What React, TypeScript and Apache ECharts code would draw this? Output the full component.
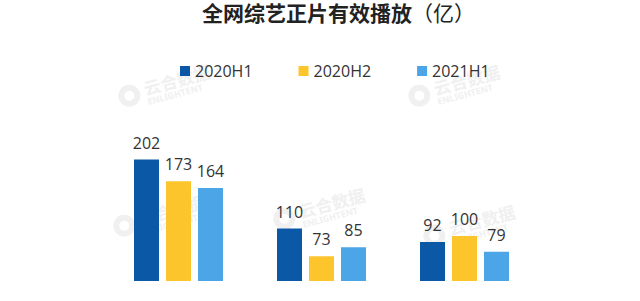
import React, { useEffect, useRef } from "react";
import * as echarts from "echarts";

const categories = ["A", "B", "C"];
const seriesNames = ["2020H1", "2020H2", "2021H1"];
const values2020H1 = [202, 110, 92];
const values2020H2 = [173, 73, 100];
const values2021H1 = [164, 85, 79];
const colors = ["#0b58a6", "#fcc52c", "#4ca5e6"];
const titleText = "全网综艺正片有效播放";
const titleUnit = "（亿）";

const watermarks = [
  { x: 165, y: 82 },
  { x: 455, y: 82 },
  { x: 320, y: 205 },
  { x: 470, y: 222 },
  { x: 160, y: 212 },
];

export default function App() {
  const ref = useRef<HTMLDivElement>(null);
  useEffect(() => {
    if (!ref.current) return;
    const chart = echarts.init(ref.current, null, { renderer: "svg" });
    const seriesData = [values2020H1, values2020H2, values2021H1];
    const wm: any[] = [];
    watermarks.forEach((w) => {
      wm.push({
        type: "group",
        x: w.x,
        y: w.y,
        rotation: (15 * Math.PI) / 180,
        z: -10,
        silent: true,
        children: [
          {
            type: "ring",
            shape: { cx: -38, cy: 4, r: 11, r0: 5 },
            style: { fill: "#f0f0f0" },
          },
          {
            type: "text",
            x: -22,
            y: -8,
            style: {
              text: "云合数据",
              font: "bold 17px 'Noto Sans CJK SC'",
              fill: "#f0f0f0",
            },
          },
          {
            type: "text",
            x: -22,
            y: 10,
            style: {
              text: "ENLIGHTENT",
              font: "bold 9px 'Noto Sans'",
              fill: "#f0f0f0",
            },
          },
        ],
      });
    });
    chart.setOption({
      animation: false,
      backgroundColor: "#ffffff",
      legend: {
        left: 175,
        top: 58,
        itemWidth: 10,
        itemHeight: 10,
        itemGap: 46,
        itemTextGap: 4,
        icon: "rect",
        data: seriesNames,
        textStyle: { fontSize: 16, color: "#333333", fontFamily: "'Open Sans', sans-serif" },
      },
      grid: { left: 107, right: 104, top: 86, bottom: 19 },
      xAxis: {
        type: "category",
        data: categories,
        show: false,
      },
      yAxis: { type: "value", min: 0, max: 300, show: false, splitLine: { show: false } },
      series: seriesNames.map((name, i) => ({
        name,
        type: "bar",
        data: seriesData[i],
        barWidth: 25,
        barGap: "28%",
        itemStyle: { color: colors[i] },
        label: {
          show: true,
          position: "top",
          distance: 9,
          fontSize: 16,
          color: "#333333",
          fontFamily: "'Open Sans', sans-serif",
        },
      })),
      graphic: [
        ...wm,
        {
          type: "text",
          x: 202,
          y: 12,
          z: 50,
          style: {
            text: titleText,
            font: "bold 21px 'Noto Sans CJK SC'",
            fill: "#222222",
            textVerticalAlign: "middle",
          },
        },
        {
          type: "text",
          x: 412,
          y: 12,
          z: 50,
          style: {
            text: titleUnit,
            font: "normal 21px 'Noto Sans CJK SC'",
            fill: "#222222",
            textVerticalAlign: "middle",
          },
        },
        {
          type: "rect",
          shape: { x: 0, y: 281, width: 640, height: 60 },
          style: { fill: "#ffffff" },
          z: 100,
          silent: true,
        },
      ],
    });
    return () => chart.dispose();
  }, []);
  return (
    <div
      style={{
        position: "fixed",
        left: 0,
        top: 0,
        width: 640,
        height: 301,
        overflow: "hidden",
        background: "#ffffff",
      }}
    >
      <div ref={ref} style={{ width: 640, height: 330 }} />
    </div>
  );
}
